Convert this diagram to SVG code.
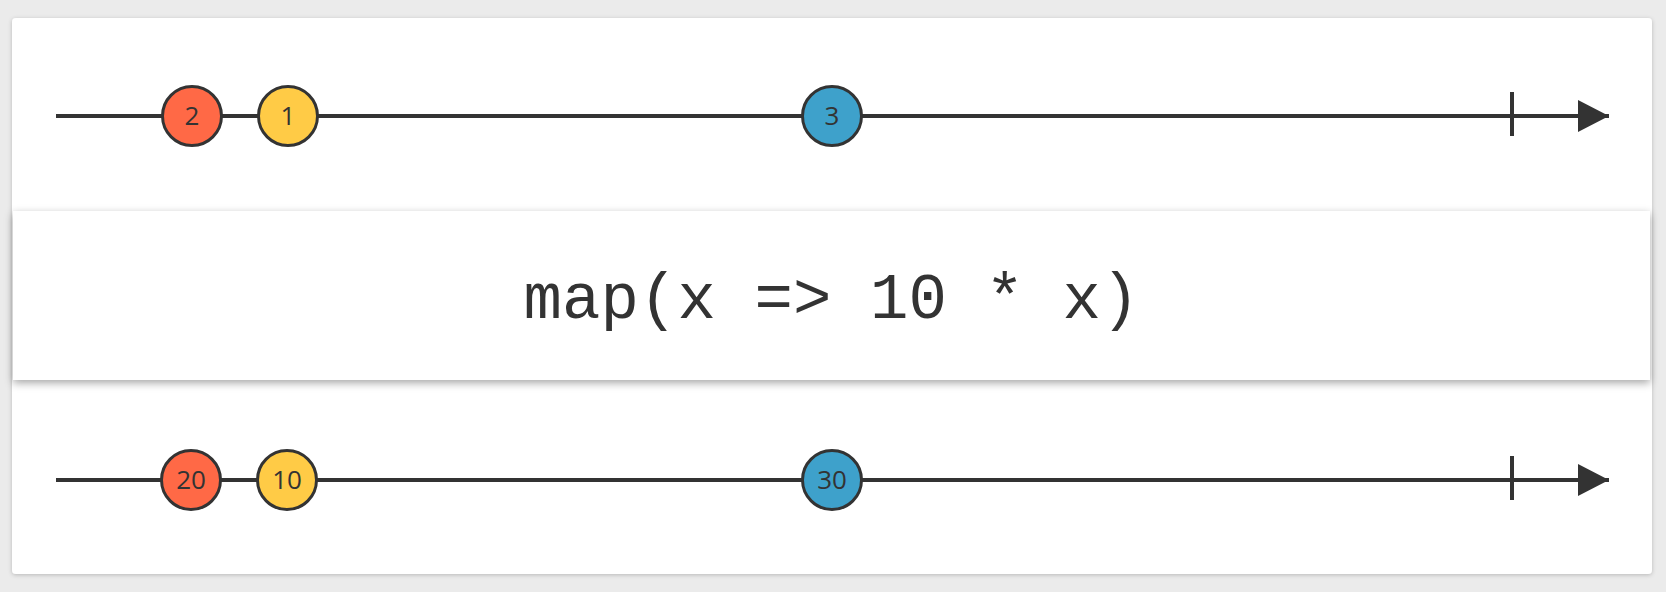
<svg xmlns="http://www.w3.org/2000/svg" width="1666" height="592" viewBox="0 0 1666 592">
  <defs>
    <filter id="cardShadow" x="-5%" y="-5%" width="110%" height="115%">
      <feDropShadow dx="0" dy="1" stdDeviation="2" flood-color="#000" flood-opacity="0.22"/>
    </filter>
    <filter id="opShadow" x="-5%" y="-20%" width="110%" height="150%">
      <feDropShadow dx="0" dy="3" stdDeviation="4" flood-color="#000" flood-opacity="0.35"/>
    </filter>
    <marker id="arrow" markerUnits="userSpaceOnUse" markerWidth="32" markerHeight="32" refX="31" refY="16" orient="auto">
      <path d="M0,0 L31,16 L0,32 Z" fill="#333"/>
    </marker>
  </defs>
  <style>
    .line { stroke: #333; stroke-width: 4; fill: none; }
    .tick { stroke: #333; stroke-width: 4; }
    .marble { stroke: #333; stroke-width: 3; }
    .red { fill: #FF6946; }
    .yellow { fill: #FFCB46; }
    .blue { fill: #3EA1CB; }
    .label { font-family: "Open Sans", "Liberation Sans", sans-serif; font-size: 26px; fill: #333; text-anchor: middle; }
    .op { font-family: "Liberation Mono", "DejaVu Sans Mono", monospace; font-size: 64px; fill: #333; text-anchor: middle; }
  </style>
  <rect width="1666" height="592" fill="#ebebeb"/>
  <rect id="card" x="12" y="18" width="1640" height="556" rx="4" fill="#fff" filter="url(#cardShadow)"/>

  <g id="connectors">
    <line class="line" x1="56" y1="116" x2="1609" y2="116" marker-end="url(#arrow)"/>
    <line class="tick" x1="1512" y1="92" x2="1512" y2="136"/>
    <line class="line" x1="56" y1="480" x2="1609" y2="480" marker-end="url(#arrow)"/>
    <line class="tick" x1="1512" y1="456" x2="1512" y2="500"/>
  </g>

  <g id="in-2"><circle class="marble red" cx="192" cy="116" r="29.5"/><text class="label" x="192" y="125">2</text></g>
  <g id="in-1"><circle class="marble yellow" cx="288" cy="116" r="29.5"/><text class="label" x="288" y="125">1</text></g>
  <g id="in-3"><circle class="marble blue" cx="832" cy="116" r="29.5"/><text class="label" x="832" y="125">3</text></g>

  <g id="operator">
    <rect x="13" y="211" width="1637" height="169" fill="#fff" filter="url(#opShadow)"/>
    <text class="op" x="831.5" y="318" textLength="616" lengthAdjust="spacing">map(x =&gt; 10 * x)</text>
  </g>

  <g id="out-20"><circle class="marble red" cx="191" cy="480" r="29.5"/><text class="label" x="191" y="489">20</text></g>
  <g id="out-10"><circle class="marble yellow" cx="287" cy="480" r="29.5"/><text class="label" x="287" y="489">10</text></g>
  <g id="out-30"><circle class="marble blue" cx="832" cy="480" r="29.5"/><text class="label" x="832" y="489">30</text></g>
</svg>
